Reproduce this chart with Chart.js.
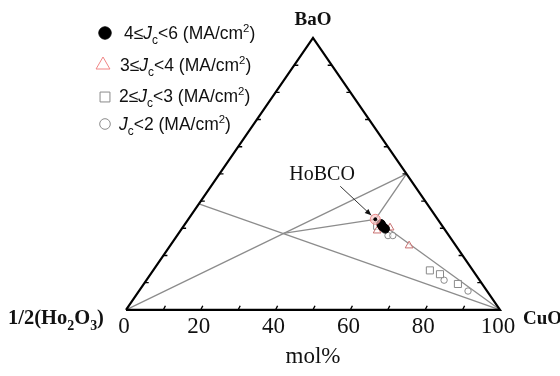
<!DOCTYPE html>
<html>
<head>
    <title>HoBCO ternary diagram</title>
    <style>
        body {
            margin: 0;
            background: #fff;
        }
        canvas {
            display: block;
        }
    </style>
</head>
<body>
    <canvas id="ternary" width="560" height="376"></canvas>
    <script src="https://cdn.jsdelivr.net/npm/chart.js"></script>
    <script>
        // compositions are mol% BaO and mol% CuO, the rest is 1/2(Ho2O3)
        const bottomTicks = [0, 20, 40, 60, 80, 100];
        const edgeTicks = [10, 20, 30, 40, 50, 60, 70, 80, 90];

        const jcHighBaO = [31.6, 30.9, 30.5, 29.8];
        const jcHighCuO = [52.4, 53.0, 53.5, 54.4];
        const jcMidBaO = [29.1, 30.2, 23.6];
        const jcMidCuO = [52.6, 55.5, 63.9];
        const jcLowBaO = [30.9, 14.5, 13.1, 9.5];
        const jcLowCuO = [51.7, 74.0, 77.4, 84.0];
        const jcMinBaO = [27.3, 27.3, 10.9, 6.9];
        const jcMinCuO = [56.4, 57.7, 79.6, 88.0];

        // phases used by the tie lines: [BaO, CuO]
        const phases = {
            Ho: [0, 0],
            BaO: [100, 0],
            CuO: [0, 100],
            BaCuO2: [50, 50],
            HoBCO: [33.3, 50],
            HoBaO: [39, 0],
            Junction: [28.1, 28.0]
        };
        const tieLines = [
            ['Ho', 'BaCuO2'],
            ['HoBaO', 'CuO'],
            ['Junction', 'HoBCO'],
            ['BaCuO2', 'HoBCO'],
            ['HoBCO', 'CuO']
        ];

        // ternary -> plot coords (x along the Ho-Cu base, y = BaO)
        function tern(ba, cu) {
            return { x: cu + ba / 2, y: ba };
        }
        function series(baArr, cuArr) {
            return baArr.map((b, i) => tern(b, cuArr[i]));
        }
        function phase(name) {
            return tern(phases[name][0], phases[name][1]);
        }

        const serif = "'Liberation Serif', 'Times New Roman', serif";
        const sans = "'Liberation Sans', Arial, sans-serif";

        const legendItems = [
            { style: 'circle', r: 6.2, fill: '#000', stroke: '#000', x: 105, y: 33, tx: 124, ty: 39,
              parts: [['4≤', 'n'], ['J', 'i'], ['c', 'sub'], ['<6 (MA/cm', 'n'], ['2', 'sup'], [')', 'n']] },
            { style: 'triangle', r: 8, fill: 'rgba(0,0,0,0)', stroke: '#f08585', x: 103, y: 65, tx: 120, ty: 71,
              parts: [['3≤', 'n'], ['J', 'i'], ['c', 'sub'], ['<4 (MA/cm', 'n'], ['2', 'sup'], [')', 'n']] },
            { style: 'rect', r: 7, fill: 'rgba(0,0,0,0)', stroke: '#8a8a8a', x: 105, y: 97, tx: 119, ty: 102,
              parts: [['2≤', 'n'], ['J', 'i'], ['c', 'sub'], ['<3 (MA/cm', 'n'], ['2', 'sup'], [')', 'n']] },
            { style: 'circle', r: 5.3, fill: 'rgba(0,0,0,0)', stroke: '#8a8a8a', x: 105, y: 124, tx: 119, ty: 130,
              parts: [['J', 'i'], ['c', 'sub'], ['<2 (MA/cm', 'n'], ['2', 'sup'], [')', 'n']] }
        ];

        function drawRich(ctx, parts, x, y, size, family, bold) {
            const w = bold ? 'bold ' : '';
            parts.forEach(p => {
                let dy = 0;
                let s = size;
                let st = '';
                if (p[1] === 'sub') { s = size * 0.68; dy = size * 0.28; }
                if (p[1] === 'sup') { s = size * 0.65; dy = -size * 0.38; }
                if (p[1] === 'i') st = 'italic ';
                ctx.font = st + w + s + 'px ' + family;
                ctx.fillText(p[0], x, y + dy);
                x += ctx.measureText(p[0]).width;
            });
        }

        const decorations = {
            id: 'decorations',
            afterDatasetsDraw(chart) {
                const ctx = chart.ctx;
                const xs = chart.scales.x;
                const ys = chart.scales.y;
                const px = p => [xs.getPixelForValue(p.x), ys.getPixelForValue(p.y)];
                ctx.save();
                ctx.strokeStyle = '#000';
                ctx.lineWidth = 1.4;
                ctx.beginPath();
                edgeTicks.forEach(t => {
                    // bottom edge, slanted like the left edge
                    let [a, b] = px(tern(0, t));
                    ctx.moveTo(a, b);
                    ctx.lineTo(a + 2, b - 4);
                    // left edge
                    [a, b] = px(tern(t, 0));
                    ctx.moveTo(a, b);
                    ctx.lineTo(a + 4, b);
                    // right edge
                    [a, b] = px(tern(t, 100 - t));
                    ctx.moveTo(a, b);
                    ctx.lineTo(a - 4, b);
                });
                ctx.stroke();

                // arrow to HoBCO
                const [hx, hy] = px(phase('HoBCO'));
                const ex = hx - 4, ey = hy - 4;
                const sx = hx - 35, sy = hy - 33;
                ctx.strokeStyle = '#333';
                ctx.lineWidth = 1;
                ctx.beginPath();
                ctx.moveTo(sx, sy);
                ctx.lineTo(ex, ey);
                ctx.stroke();
                const ang = Math.atan2(ey - sy, ex - sx);
                ctx.fillStyle = '#111';
                ctx.beginPath();
                ctx.moveTo(ex, ey);
                ctx.lineTo(ex - 7 * Math.cos(ang - 0.4), ey - 7 * Math.sin(ang - 0.4));
                ctx.lineTo(ex - 7 * Math.cos(ang + 0.4), ey - 7 * Math.sin(ang + 0.4));
                ctx.closePath();
                ctx.fill();

                ctx.fillStyle = '#111';
                ctx.textBaseline = 'alphabetic';
                ctx.textAlign = 'left';
                ctx.font = '20px ' + serif;
                ctx.fillText('HoBCO', hx - 86, hy - 39);

                // vertex labels
                const [ax, ay] = px(phase('BaO'));
                ctx.textAlign = 'center';
                ctx.font = 'bold 19px ' + serif;
                ctx.fillText('BaO', ax, ay - 13);
                ctx.textAlign = 'left';
                const [cx, cy] = px(phase('CuO'));
                ctx.fillText('CuO', cx + 23, cy + 14);
                drawRich(ctx, [['1/2(Ho', 'n'], ['2', 'sub'], ['O', 'n'], ['3', 'sub'], [')', 'n']],
                    8, cy + 14, 20.5, serif, true);

                // legend
                legendItems.forEach(it => {
                    ctx.fillStyle = it.fill;
                    ctx.strokeStyle = it.stroke;
                    ctx.lineWidth = 1;
                    Chart.helpers.drawPoint(ctx, { pointStyle: it.style, radius: it.r, rotation: 0, borderWidth: 1 }, it.x, it.y);
                    ctx.fillStyle = '#111';
                    drawRich(ctx, it.parts, it.tx, it.ty, 17.5, sans, false);
                });
                ctx.restore();
            }
        };

        const lineSets = tieLines.map(([a, b]) => ({
            data: [phase(a), phase(b)],
            showLine: true,
            borderColor: '#8c8c8c',
            borderWidth: 1.3,
            pointRadius: 0,
            order: 10
        }));

        const pointSet = (data, style, r, fill, stroke, order) => ({
            data: data,
            showLine: false,
            pointStyle: style,
            pointRadius: r,
            pointHoverRadius: r,
            backgroundColor: fill,
            borderColor: stroke,
            borderWidth: 1,
            order: order
        });

        new Chart(document.getElementById('ternary'), {
            type: 'scatter',
            data: {
                datasets: [
                    {
                        data: ['Ho', 'BaO', 'CuO', 'Ho'].map(phase),
                        showLine: true,
                        borderColor: '#000',
                        borderWidth: 2.2,
                        pointRadius: 0,
                        order: 9
                    },
                    ...lineSets,
                    pointSet(series(jcMinBaO, jcMinCuO), 'circle', 3.2, 'rgba(255,255,255,0.6)', '#8a8a8a', 6),
                    pointSet(series(jcLowBaO, jcLowCuO), 'rect', 5, 'rgba(255,255,255,0.6)', '#8a8a8a', 5),
                    pointSet(series(jcMidBaO, jcMidCuO), 'triangle', 4.5, 'rgba(255,255,255,0.6)', '#c87070', 4),
                    pointSet(series(jcHighBaO, jcHighCuO), 'circle', 4.3, '#000', '#000', 3),
                    pointSet([phase('HoBCO')], 'circle', 5, 'rgba(250,200,200,0.7)', '#ec8a8a', 2),
                    pointSet([phase('HoBCO')], 'circle', 1.5, '#000', '#000', 1)
                ]
            },
            options: {
                responsive: false,
                animation: false,
                clip: false,
                layout: { padding: { left: 126, right: 60, top: 38, bottom: 4 } },
                plugins: {
                    legend: { display: false },
                    tooltip: { enabled: false }
                },
                scales: {
                    x: {
                        type: 'linear',
                        min: 0,
                        max: 100,
                        grid: { display: false, drawTicks: false },
                        border: { display: false },
                        afterBuildTicks: axis => {
                            axis.ticks = bottomTicks.map(v => ({ value: v }));
                        },
                        ticks: {
                            padding: 3,
                            labelOffset: -2,
                            color: '#111',
                            font: { family: serif, size: 23 }
                        },
                        title: {
                            display: true,
                            text: 'mol%',
                            color: '#111',
                            font: { family: serif, size: 23 },
                            padding: { top: 0, bottom: 1 }
                        }
                    },
                    y: {
                        display: false,
                        min: 0,
                        max: 100
                    }
                }
            },
            plugins: [decorations]
        });
    </script>
</body>
</html>
